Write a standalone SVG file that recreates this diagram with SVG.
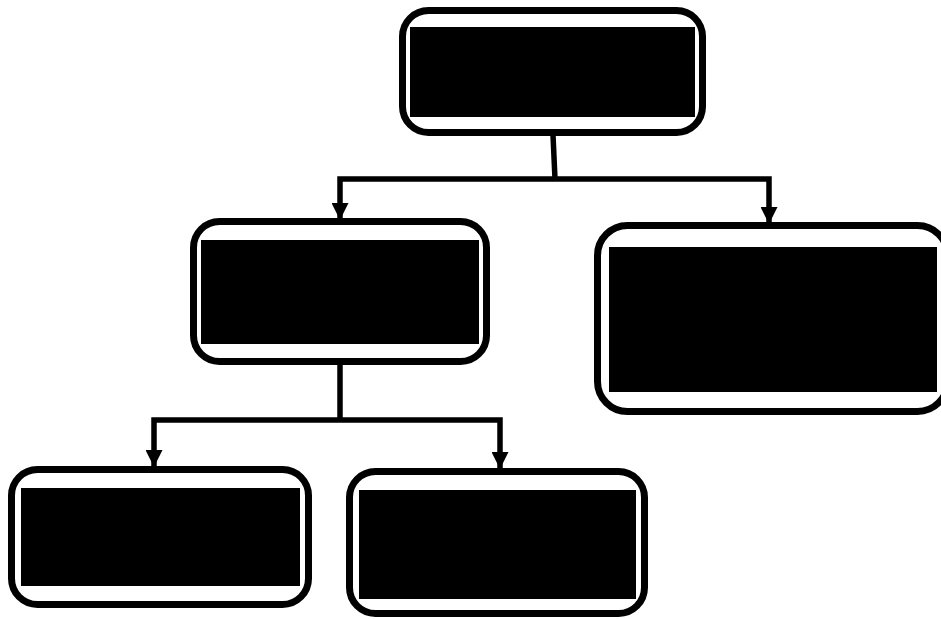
<svg xmlns="http://www.w3.org/2000/svg" width="941" height="619" viewBox="0 0 941 619">
  <style>
    .frame { fill: #fff; stroke: #000; stroke-width: 7; }
    .body { fill: #000; }
    .link { fill: none; stroke: #000; stroke-width: 5.5; stroke-linejoin: miter; }
  </style>
  <defs>
    <marker id="arrow" viewBox="0 0 10 10" refX="10" refY="5" markerWidth="17" markerHeight="17" markerUnits="userSpaceOnUse" orient="auto">
      <path d="M0,0 L10,5 L0,10 z" fill="#000"/>
    </marker>
  </defs>
  <rect width="941" height="619" fill="#fff"/>

  <g id="connectors">
    <path class="link" d="M553,135 L555,179"/>
    <path class="link" d="M555,179 H340 V220" marker-end="url(#arrow)"/>
    <path class="link" d="M555,179 H769 V224" marker-end="url(#arrow)"/>
    <path class="link" d="M340,364 V420"/>
    <path class="link" d="M340,420 H154 V467" marker-end="url(#arrow)"/>
    <path class="link" d="M340,420 H500 V469" marker-end="url(#arrow)"/>
  </g>

  <g id="node-root">
    <rect class="frame" x="402.5" y="10.5" width="300" height="122" rx="26"/>
    <rect class="body" x="410" y="27" width="285" height="90"/>
  </g>
  <g id="node-left">
    <rect class="frame" x="193.5" y="221.5" width="293" height="140" rx="26"/>
    <rect class="body" x="201" y="240" width="278" height="104"/>
  </g>
  <g id="node-right">
    <rect class="frame" x="597.5" y="225.5" width="350" height="186" rx="30"/>
    <rect class="body" x="609" y="247" width="328" height="145"/>
  </g>
  <g id="node-left-a">
    <rect class="frame" x="11.5" y="469.5" width="297" height="135" rx="26"/>
    <rect class="body" x="21" y="488" width="279" height="98"/>
  </g>
  <g id="node-left-b">
    <rect class="frame" x="349.5" y="471.5" width="295" height="142" rx="26"/>
    <rect class="body" x="359" y="490" width="277" height="109"/>
  </g>
</svg>
